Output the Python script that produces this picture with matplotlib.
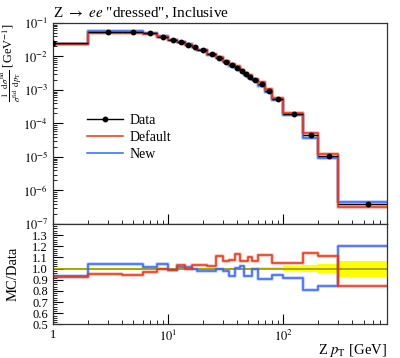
import numpy as np
import matplotlib
matplotlib.use("Agg")
import matplotlib.pyplot as plt
from matplotlib.ticker import NullFormatter, MultipleLocator
from matplotlib.lines import Line2D

plt.rcParams['font.family'] = ['Liberation Serif', 'DejaVu Serif']
plt.rcParams['mathtext.fontset'] = 'stix'

# ---- data ----
bin_edges = [0, 2, 4, 6, 8, 10, 12, 14, 16, 18, 22, 26, 30, 34, 38, 42, 46, 50,
             54, 60, 70, 80, 100, 150, 200, 300, 800]
data_vals = [0.025, 0.054, 0.055, 0.049, 0.039, 0.032, 0.027, 0.0225, 0.019,
             0.0156, 0.0116, 0.0088, 0.0070, 0.0057, 0.0046, 0.0036, 0.0031,
             0.0025, 0.0020, 0.0015, 0.00095, 0.00054, 1.9e-4, 4.6e-5, 1.07e-5, 3.9e-7]
data_relerr = [0.008, 0.008, 0.008, 0.008, 0.008, 0.008, 0.008, 0.008, 0.008,
               0.008, 0.008, 0.008, 0.008, 0.008, 0.008, 0.008, 0.008, 0.008,
               0.01, 0.012, 0.014, 0.016, 0.022, 0.03, 0.042, 0.072]
ratio_default = [0.925, 0.952, 0.940, 0.967, 0.998, 0.99, 1.033, 1.0, 1.036,
                 1.033, 1.024, 1.11, 1.066, 1.078, 1.135, 1.066, 1.07, 1.10,
                 1.07, 1.12, 1.12, 1.055, 1.05, 1.14, 1.117, 0.847]
ratio_new = [0.937, 1.045, 1.045, 1.018, 1.04, 0.99, 1.018, 1.015, 1.0,
             0.982, 0.978, 1.0, 0.978, 0.935, 1.01, 1.02, 0.93, 0.935,
             1.0, 0.905, 0.905, 0.94, 0.92, 0.81, 0.847, 1.2]

title = 'Z $\\rightarrow$ $ee$ "dressed", Inclusive'
series_labels = ['Data', 'Default', 'New']
red = '#EE3311'
blue = '#3366FF'

edges = np.array(bin_edges, dtype=float)
dv = np.array(data_vals)
rd = np.array(ratio_default)
rn = np.array(ratio_new)
err = np.array(data_relerr)
centers = 0.5 * (edges[:-1] + edges[1:])
mc_default = dv * rd
mc_new = dv * rn

def step_xy(vals):
    return edges, np.append(vals, vals[-1])

fig = plt.figure(figsize=(4.0, 3.58), dpi=100)
ax = fig.add_axes([0.1325, 0.3743, 0.835, 0.5615])
rax = fig.add_axes([0.1325, 0.0936, 0.835, 0.2807])

# main panel
for vals, c in [(mc_new, blue), (mc_default, red)]:
    x, y = step_xy(vals)
    ax.step(x, y, where='post', color=c, lw=2.6, alpha=0.35)
    ax.step(x, y, where='post', color=c, lw=1.1)
ax.errorbar(centers, dv, xerr=[centers - edges[:-1], edges[1:] - centers],
            yerr=dv * err, fmt='o', color='black', ms=3.2, lw=1.0, capsize=0, zorder=5)

ax.set_xscale('log')
ax.set_yscale('log')
ax.set_xlim(1, 800)
ax.set_ylim(1e-7, 1e-1)
ax.set_yticks([10.0 ** k for k in range(-7, 0)])
ax.set_yticklabels(['$10^{%d}$' % k for k in range(-7, 0)])
ax.xaxis.set_major_formatter(NullFormatter())
ax.xaxis.set_minor_formatter(NullFormatter())
ax.set_ylabel('$\\frac{1}{\\sigma^{\\rm fid}}\\frac{{\\rm d}\\sigma^{\\rm fid}}{{\\rm d}p_{\\rm T}}$ [GeV$^{-1}$]',
              loc='top', fontsize=9)
ax.yaxis.set_label_coords(-0.088, 1.0)
ax.set_title(title, loc='left', fontsize=11, pad=4)

handles = [Line2D([], [], color='black', marker='o', ms=3.2, lw=1.0),
           Line2D([], [], color=red, lw=1.1),
           Line2D([], [], color=blue, lw=1.1)]
ax.legend(handles, series_labels, loc='upper left', bbox_to_anchor=(0.085, 0.575),
          frameon=False, fontsize=10, handlelength=2.6, handletextpad=0.5,
          labelspacing=0.3, borderaxespad=0)

# ratio panel
xb, yb_lo = step_xy(1 - err)
_, yb_hi = step_xy(1 + err)
rax.fill_between(xb, yb_lo, yb_hi, step='post', color='#FFFF00', lw=0)
rax.axhline(1.0, color='#999900', lw=1.2)
for vals, c in [(rn, blue), (rd, red)]:
    x, y = step_xy(vals)
    rax.step(x, y, where='post', color=c, lw=2.6, alpha=0.3)
    rax.step(x, y, where='post', color=c, lw=1.1)

rax.set_xscale('log')
rax.set_xlim(1, 800)
rax.set_ylim(0.5, 1.4)
rax.set_yticks(np.round(np.arange(0.5, 1.31, 0.1), 1))
rax.set_yticklabels(['%.1f' % v for v in np.arange(0.5, 1.31, 0.1)])
rax.yaxis.set_minor_locator(MultipleLocator(0.02))
rax.set_xticks([1, 10, 100])
rax.set_xticklabels(['1', '$10^{1}$', '$10^{2}$'])
rax.xaxis.set_minor_formatter(NullFormatter())
rax.set_ylabel('MC/Data', fontsize=10.5)
rax.yaxis.set_label_coords(-0.1, 0.5)
rax.set_xlabel('Z $p_{\\rm T}$ [GeV]', fontsize=10.5, ha='right', va='center')
rax.xaxis.set_label_coords(1.0, -0.255)

for a in (ax, rax):
    a.tick_params(which='both', direction='in', top=False, right=False, labelsize=9)
    a.tick_params(which='major', length=7)
    a.tick_params(which='minor', length=3)
    for s in a.spines.values():
        s.set_color('#333333')
        s.set_linewidth(0.9)

fig.savefig('out.png', dpi=100)
